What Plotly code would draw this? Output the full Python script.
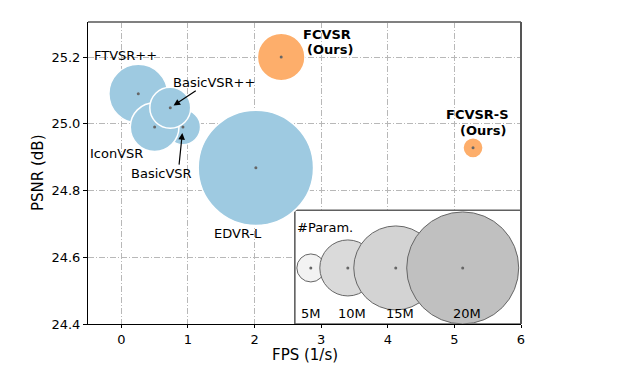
import plotly.graph_objects as go

# ---------------- data ----------------
models = ["EDVR-L", "FTVSR++", "BasicVSR", "IconVSR", "BasicVSR++", "FCVSR", "FCVSR-S"]
fps = [2.02, 0.255, 0.925, 0.50, 0.735, 2.40, 5.28]
psnr = [24.868, 25.09, 24.99, 24.99, 25.048, 25.20, 24.928]
params_m = [20.6, 10.5, 6.3, 8.7, 7.3, 8.5, 3.6]
ours = [False, False, False, False, False, True, True]

legend_params = [5, 10, 15, 20]
legend_labels = ["5M", "10M", "15M", "20M"]

x_ticks = [0, 1, 2, 3, 4, 5, 6]
y_ticks = [24.4, 24.6, 24.8, 25.0, 25.2]

# ---------------- layout constants ----------------
X_RANGE = [-0.5, 6.0]
Y_RANGE = [24.4, 25.305]
PX_PER_M = 5.6           # marker diameter in px per million params
FONT = "DejaVu Sans"
BLUE = "#9ecae1"
ORANGE = "#fdae6b"
legend_x = [2.845, 3.40, 4.12, 5.125]
legend_y = 24.568
legend_fill = ["#f2f2f2", "#dadada", "#d3d3d3", "#c0c0c0"]

fig = go.Figure()

# inset box (white, between grid and traces)
fig.add_shape(type="rect", x0=2.605, x1=6.0, y0=24.4, y1=24.741,
              xref="x", yref="y", layer="between",
              fillcolor="white", line=dict(color="#606060", width=1.6))

# model bubbles
colors = [ORANGE if o else BLUE for o in ours]
fig.add_trace(go.Scatter(
    x=fps, y=psnr, mode="markers",
    marker=dict(size=params_m, sizemode="diameter", sizeref=1 / PX_PER_M,
                color=colors, opacity=1,
                line=dict(color="white", width=1.5)),
    hoverinfo="text", text=models, showlegend=False))
fig.add_trace(go.Scatter(
    x=fps, y=psnr, mode="markers",
    marker=dict(size=3, color="#666666", opacity=1), hoverinfo="skip", showlegend=False))

# size legend bubbles
fig.add_trace(go.Scatter(
    x=legend_x, y=[legend_y] * len(legend_params), mode="markers",
    marker=dict(size=legend_params, sizemode="diameter", sizeref=1 / PX_PER_M,
                color=legend_fill, opacity=1, line=dict(color="#666666", width=1)),
    hoverinfo="skip", showlegend=False))
fig.add_trace(go.Scatter(
    x=legend_x, y=[legend_y] * len(legend_params), mode="markers",
    marker=dict(size=3, color="#666666", opacity=1), hoverinfo="skip", showlegend=False))

tf = dict(family=FONT, size=13, color="black")
tfb = dict(family=FONT, size=13, color="black", weight="bold")

ann = []
def label(x, y, text, xanchor="center", font=tf):
    ann.append(dict(x=x, y=y, xref="x", yref="y", text=text, showarrow=False,
                    xanchor=xanchor, yanchor="middle", font=font))

label(0.06, 25.204, "FTVSR++")
label(1.398, 25.124, "BasicVSR++")
label(-0.065, 24.912, "IconVSR")
label(0.61, 24.852, "BasicVSR")
label(1.747, 24.671, "EDVR-L")
label(2.70, 25.269, "FCVSR", "left", tfb)
label(2.75, 25.224, "(Ours)", "left", tfb)
label(4.84, 25.027, "FCVSR-S", "left", tfb)
label(5.05, 24.981, "(Ours)", "left", tfb)
label(2.60, 24.689, "#Param.", "left")
for lx, lt in zip([2.845, 3.468, 4.18, 5.185], legend_labels):
    label(lx, 24.430, lt)

# arrows
idx_bpp = models.index("BasicVSR++")
idx_b = models.index("BasicVSR")
ann.append(dict(x=fps[idx_bpp], y=psnr[idx_bpp], xref="x", yref="y", text="",
                showarrow=True, arrowhead=2, arrowsize=1.1, arrowwidth=1.2,
                arrowcolor="black", ax=27, ay=-18, standoff=4))
ann.append(dict(x=fps[idx_b], y=psnr[idx_b], xref="x", yref="y", text="",
                showarrow=True, arrowhead=2, arrowsize=1.1, arrowwidth=1.2,
                arrowcolor="black", ax=-4, ay=39, standoff=6))

# axis titles
ann.append(dict(x=0.5, y=0, xref="paper", yref="paper", text="FPS (1/s)",
                showarrow=False, xanchor="center", yanchor="middle", yshift=-31,
                font=dict(family=FONT, size=15, color="black")))
ann.append(dict(x=0, y=0.5, xref="paper", yref="paper", text="PSNR (dB)",
                showarrow=False, xanchor="center", yanchor="middle", xshift=-50,
                textangle=-90, font=dict(family=FONT, size=15, color="black")))

# frame top/right
fig.add_shape(type="line", x0=0, x1=1, y0=1, y1=1, xref="paper", yref="paper",
              line=dict(color="#808080", width=2))
fig.add_shape(type="line", x0=1, x1=1, y0=0, y1=1, xref="paper", yref="paper",
              line=dict(color="#555555", width=2))

grid = dict(showgrid=True, gridcolor="#b8b8b8", gridwidth=1, griddash="6px,2px,1px,2px")
fig.update_xaxes(range=X_RANGE, tickvals=x_ticks, ticktext=[str(v) for v in x_ticks],
                 ticks="outside", ticklen=3, tickcolor="black", tickwidth=1,
                 showline=True, linecolor="black", linewidth=1, zeroline=False,
                 tickfont=tf, **grid)
fig.update_yaxes(range=Y_RANGE, tickvals=y_ticks, ticktext=[f"{v:.1f}" for v in y_ticks],
                 ticks="outside", ticklen=4, tickcolor="black", tickwidth=1,
                 showline=True, linecolor="black", linewidth=1, zeroline=False,
                 tickfont=tf, **grid)

fig.update_layout(width=627, height=372, margin=dict(l=88, r=106, t=22, b=48),
                  plot_bgcolor="white", paper_bgcolor="white",
                  annotations=ann, font=dict(family=FONT))

fig.write_html("out.html", config={"displayModeBar": False},
               post_script="document.body.style.margin='0';")
